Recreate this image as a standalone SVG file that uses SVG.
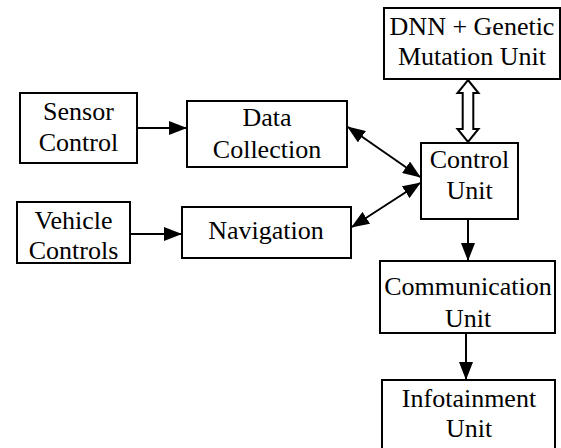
<svg xmlns="http://www.w3.org/2000/svg" width="561" height="448" viewBox="0 0 561 448">
<style>
.box{fill:#fff;stroke:#000;stroke-width:2}
.c{stroke:#000;stroke-width:2;fill:none}
text{font-family:'Liberation Serif','Times New Roman',Times,Tinos,'Noto Serif','DejaVu Serif',FreeSerif,serif;font-size:26px;text-anchor:middle;fill:#000}
</style>
<defs>
<marker id="ah" markerUnits="userSpaceOnUse" markerWidth="18" markerHeight="14" refX="17" refY="7" orient="auto-start-reverse" viewBox="0 0 18 14">
<path d="M0,0 L18,7 L0,14 Z" fill="#000"/>
</marker>
</defs>
<rect width="561" height="448" fill="#fff"/>
<g id="connectors">
<line class="c" x1="138" y1="128" x2="186" y2="128" marker-end="url(#ah)"/>
<line class="c" x1="131" y1="234" x2="181" y2="234" marker-end="url(#ah)"/>
<line class="c" x1="348" y1="127" x2="420" y2="177" marker-start="url(#ah)" marker-end="url(#ah)"/>
<line class="c" x1="352" y1="227" x2="420" y2="183" marker-start="url(#ah)" marker-end="url(#ah)"/>
<line class="c" x1="468" y1="220" x2="468" y2="260" marker-end="url(#ah)"/>
<line class="c" x1="466" y1="334" x2="466" y2="379" marker-end="url(#ah)"/>
<path d="M468,80 L478.5,93 L473.3,93 L473.3,129 L478.5,129 L468,142 L457.5,129 L462.7,129 L462.7,93 L457.5,93 Z" fill="#fff" stroke="#000" stroke-width="2"/>
</g>
<g id="sensor-control">
<rect class="box" x="20" y="93" width="117" height="70"/>
<text x="78.5" y="120">Sensor</text>
<text x="78.5" y="151">Control</text>
</g>
<g id="vehicle-controls">
<rect class="box" x="17" y="202" width="113" height="61"/>
<text x="73.5" y="229">Vehicle</text>
<text x="73.5" y="259">Controls</text>
</g>
<g id="data-collection">
<rect class="box" x="187" y="101" width="160" height="66"/>
<text x="267" y="126">Data</text>
<text x="267" y="158">Collection</text>
</g>
<g id="navigation">
<rect class="box" x="182" y="207" width="169" height="51"/>
<text x="266" y="239">Navigation</text>
</g>
<g id="control-unit">
<rect class="box" x="421" y="143" width="97" height="76"/>
<text x="469.5" y="168">Control</text>
<text x="469.5" y="199">Unit</text>
</g>
<g id="dnn">
<rect class="box" x="384" y="8" width="176" height="71"/>
<text x="472" y="35">DNN + Genetic</text>
<text x="472" y="65">Mutation Unit</text>
</g>
<g id="communication-unit">
<rect class="box" x="380" y="261" width="175" height="72"/>
<text x="468" y="295">Communication</text>
<text x="468" y="327">Unit</text>
</g>
<g id="infotainment-unit">
<rect class="box" x="382" y="380" width="173" height="70"/>
<text x="469" y="407">Infotainment</text>
<text x="469" y="437">Unit</text>
</g>
</svg>
